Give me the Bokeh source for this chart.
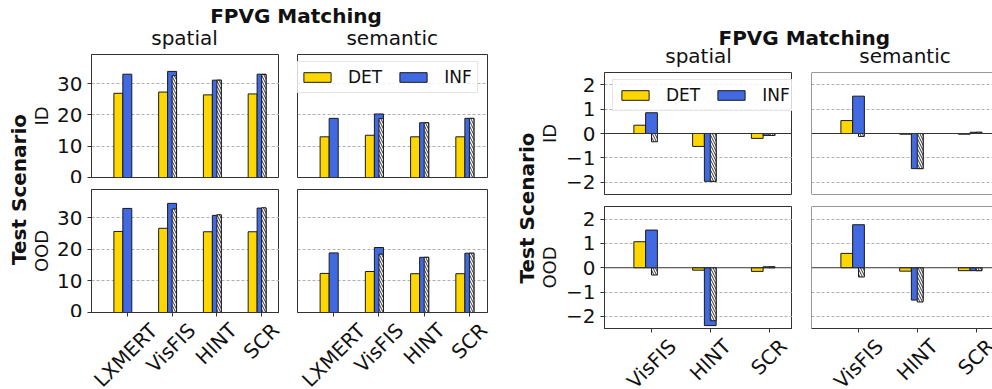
import math
from bokeh.plotting import figure
from bokeh.layouts import row, column
from bokeh.models import (ColumnDataSource, Range1d, FixedTicker, Legend, LegendItem,
                          Span, CustomJSTickFormatter)
from bokeh.transform import dodge
from bokeh.embed import file_html
from bokeh.resources import INLINE
from bokeh.core.properties import value

# ---------------- data ----------------
models = ["LXMERT", "VisFIS", "HINT", "SCR"]
hat_models = ["VisFIS", "HINT", "SCR"]

spatial_id_det = [26.9, 27.3, 26.4, 26.7]
spatial_id_inf = [33.0, 33.9, 31.1, 33.0]
spatial_id_hat = [32.5, 31.1, 32.9]
semantic_id_det = [13.0, 13.5, 13.0, 13.0]
semantic_id_inf = [18.9, 20.3, 17.5, 18.9]
semantic_id_hat = [18.8, 17.5, 18.9]
spatial_ood_det = [25.7, 26.7, 25.6, 25.6]
spatial_ood_inf = [33.0, 34.6, 30.8, 33.1]
spatial_ood_hat = [32.8, 31.0, 33.2]
semantic_ood_det = [12.4, 13.0, 12.3, 12.3]
semantic_ood_inf = [18.9, 20.6, 17.5, 18.8]
semantic_ood_hat = [18.5, 17.5, 18.8]

diff_models = ["VisFIS", "HINT", "SCR"]
d_spatial_id_det = [0.34, -0.53, -0.20]
d_spatial_id_inf = [0.85, -1.96, -0.08]
d_spatial_id_hat = [-0.34, -1.96, -0.08]
d_semantic_id_det = [0.53, -0.03, -0.03]
d_semantic_id_inf = [1.53, -1.44, 0.05]
d_semantic_id_hat = [-0.12, -1.44, 0.05]
d_spatial_ood_det = [1.07, -0.10, -0.15]
d_spatial_ood_inf = [1.55, -2.38, 0.04]
d_spatial_ood_hat = [-0.30, -2.18, 0.04]
d_semantic_ood_det = [0.59, -0.14, -0.12]
d_semantic_ood_inf = [1.77, -1.33, -0.12]
d_semantic_ood_hat = [-0.38, -1.41, -0.12]

left_yticks = [0, 10, 20, 30]
right_yticks = [-2, -1, 0, 1, 2]

# ---------------- style ----------------
FONT = "DejaVu Sans"
YEL = "#FFD700"
BLUE = "#4169E1"
EDGE = "#1a1a1a"
FRAME = "#333333"
GRID = "#b0b0b0"
TXT = "#111111"
TICK_FS = 20
TITLE_FS = "20px"

EM = {"L": 0.557, "X": 0.685, "M": 0.863, "E": 0.632, "R": 0.695, "T": 0.611,
      "V": 0.685, "i": 0.278, "s": 0.521, "F": 0.575, "I": 0.295, "S": 0.635,
      "H": 0.752, "N": 0.748, "C": 0.698}


def text_em(t):
    return sum(EM.get(c, 0.6) for c in t)


def label_drop(t):
    # distance from frame bottom to the centre of a 45-degree rotated tick label
    L = text_em(t) * TICK_FS
    return 6 + 0.354 * (L + 1.16 * TICK_FS)


def panel(cats, det, inf, hat, width, height, bl, br, bt, bb, y0, y1, yticks,
          x_end=None, yaxis=False, xaxis=False, legend_loc=None,
          zero_line=False, open_right=False):
    n = len(cats)
    if x_end is None:
        x_end = n - 1 + 0.4
    p = figure(width=width, height=height, x_range=Range1d(-0.8, x_end),
               y_range=Range1d(y0, y1), toolbar_location=None, output_backend="svg",
               title=None, x_axis_location="below" if xaxis else None,
               y_axis_location="left" if yaxis else None,
               min_border_left=bl, min_border_right=br, min_border_top=bt,
               min_border_bottom=bb, background_fill_color="white",
               border_fill_color="white")
    if open_right:
        p.outline_line_color = None
    else:
        p.outline_line_color = FRAME
        p.outline_line_width = 1
    p.xgrid.grid_line_color = None
    p.ygrid.ticker = FixedTicker(ticks=[t for t in yticks if not (zero_line and t == 0)])
    p.ygrid.grid_line_color = GRID
    p.ygrid.grid_line_dash = "3 2"
    p.ygrid.grid_line_width = 1

    if zero_line:
        p.add_layout(Span(location=0, dimension="width", line_color=FRAME, line_width=1))

    idx = list(range(n))
    src = ColumnDataSource(dict(idx=idx, det=det, inf=inf))
    hidx = [cats.index(m) for m in hat_models if m in cats]
    hsrc = ColumnDataSource(dict(idx=hidx, hat=hat))
    r_det = p.vbar(x=dodge("idx", -0.2), top="det", width=0.2, source=src,
                   fill_color=YEL, line_color=EDGE, line_width=1)
    r_inf = p.vbar(x="idx", top="inf", width=0.2, source=src,
                   fill_color=BLUE, line_color=EDGE, line_width=1)
    p.vbar(x=dodge("idx", 0.05), top="hat", width=0.1, source=hsrc,
           fill_color="white", line_color=EDGE, line_width=1,
           hatch_pattern="left_diagonal_line", hatch_color="#333333",
           hatch_scale=5, hatch_weight=1)

    if open_right:
        p.add_layout(Span(location=y1, dimension="width", line_color=FRAME, line_width=1))
        p.add_layout(Span(location=y0, dimension="width", line_color=FRAME, line_width=1))
        p.add_layout(Span(location=-0.8, dimension="height", line_color=FRAME, line_width=1))

    if yaxis:
        ax = p.yaxis[0]
        ax.ticker = FixedTicker(ticks=yticks)
        ax.formatter = CustomJSTickFormatter(
            code='return tick < 0 ? "\\u2212" + Math.abs(tick) : tick.toString()')
        ax.major_tick_in = 0
        ax.major_tick_out = 4
        ax.minor_tick_line_color = None
        ax.axis_line_color = FRAME
        ax.major_tick_line_color = FRAME
        ax.major_label_text_font = FONT
        ax.major_label_text_font_size = f"{TICK_FS}px"
        ax.major_label_text_color = TXT
        ax.major_label_standoff = 5

    if xaxis:
        ax = p.xaxis[0]
        ax.ticker = FixedTicker(ticks=idx)
        ax.formatter = CustomJSTickFormatter(code='return ""')
        ax.major_label_text_font_size = "1px"
        ax.major_label_standoff = 0
        ax.major_tick_in = 0
        ax.major_tick_out = 4
        ax.minor_tick_line_color = None
        ax.axis_line_color = FRAME
        ax.major_tick_line_color = FRAME

    if legend_loc is not None:
        leg = Legend(items=[LegendItem(label="DET", renderers=[r_det]),
                            LegendItem(label="INF", renderers=[r_inf])],
                     orientation="horizontal", location=legend_loc,
                     glyph_width=34, glyph_height=12, label_standoff=14, spacing=14,
                     padding=5, margin=0, label_text_font=FONT,
                     label_text_font_size="17px", label_text_color=TXT,
                     border_line_color="#cccccc", border_line_width=1,
                     background_fill_color="white", background_fill_alpha=0.8)
        p.add_layout(leg)
    return p


def text_fig(width, height, items):
    p = figure(width=width, height=height, x_range=Range1d(0, width),
               y_range=Range1d(0, height), toolbar_location=None, output_backend="svg",
               title=None, x_axis_location=None, y_axis_location=None,
               min_border_left=0, min_border_right=0, min_border_top=0,
               min_border_bottom=0, outline_line_color=None)
    p.grid.grid_line_color = None
    for (x, y, t, size, style, angle) in items:
        p.text(x=[x], y=[y], text=[t], angle=angle, text_align="center",
               text_baseline="middle", text_font=value(FONT),
               text_font_size=value(size), text_font_style=style, text_color=TXT)
    return p


def label_strip(width, height, top_gap, panels):
    """Rotated category labels under a row of panels.
    panels: list of (cats, frame_left, frame_right, x_start, x_end) in strip pixels."""
    p = figure(width=width, height=height, x_range=Range1d(0, width),
               y_range=Range1d(0, height), toolbar_location=None, output_backend="svg",
               title=None, x_axis_location=None, y_axis_location=None,
               min_border_left=0, min_border_right=0, min_border_top=0,
               min_border_bottom=0, outline_line_color=None)
    p.grid.grid_line_color = None
    for k, (cats, a, b, x0, x1) in enumerate(panels):
        u = (x1 - x0) / (b - a)
        name = f"panel{k}"
        p.extra_x_ranges[name] = Range1d(x0 - a * u, x1 + (width - b) * u)
        ys = [height + top_gap - label_drop(c) for c in cats]
        p.text(x=list(range(len(cats))), y=ys, text=cats, angle=math.pi / 4,
               text_align="center", text_baseline="middle", text_font=value(FONT),
               text_font_size=value(f"{TICK_FS}px"), text_color=TXT, x_range_name=name)
    return p


# ---------------- left group (508 px wide) ----------------
TS_L = 54
BL_L = 89 - TS_L
A = panel(models, spatial_id_det, spatial_id_inf, spatial_id_hat,
          width=BL_L + 190, height=129, bl=BL_L, br=0, bt=0, bb=6,
          y0=0, y1=39.3, yticks=left_yticks, yaxis=True)
B = panel(models, semantic_id_det, semantic_id_inf, semantic_id_hat,
          width=18 + 190 + 21, height=129, bl=18, br=21, bt=0, bb=6,
          y0=0, y1=39.3, yticks=left_yticks, legend_loc=(-3, 84))
C = panel(models, spatial_ood_det, spatial_ood_inf, spatial_ood_hat,
          width=BL_L + 190, height=134, bl=BL_L, br=0, bt=6, bb=5,
          y0=0, y1=39.0, yticks=left_yticks, yaxis=True, xaxis=True)
D = panel(models, semantic_ood_det, semantic_ood_inf, semantic_ood_hat,
          width=18 + 190 + 21, height=134, bl=18, br=21, bt=6, bb=5,
          y0=0, y1=39.0, yticks=left_yticks, xaxis=True)

head_l = text_fig(508, 54, [
    (295.5, 38.4, "FPVG Matching", TITLE_FS, "bold", 0),
    (184, 16.9, "spatial", TITLE_FS, "normal", 0),
    (391.7, 16.9, "semantic", TITLE_FS, "normal", 0),
])
ts_l = text_fig(TS_L, 263, [
    (18, 128, "Test Scenario", TITLE_FS, "bold", math.pi / 2),
    (40.5, 201.5, "ID", "18px", "normal", math.pi / 2),
    (40.5, 66.5, "OOD", "18px", "normal", math.pi / 2),
])
strip_l = label_strip(508, 72, 5, [(models, 89, 279, -0.8, 3.4),
                                   (models, 297, 487, -0.8, 3.4)])

left = column(head_l, row(ts_l, column(row(A, B), row(C, D))), strip_l)

# ---------------- right group (484 px wide) ----------------
TS_R = 54
BL_R = 96 - TS_R
XR_END = -0.8 + 181 * 3.2 / 188
E = panel(diff_models, d_spatial_id_det, d_spatial_id_inf, d_spatial_id_hat,
          width=BL_R + 188, height=128, bl=BL_R, br=0, bt=0, bb=6,
          y0=-2.5, y1=2.5, yticks=right_yticks, yaxis=True,
          legend_loc=(8, 83), zero_line=True)
F = panel(diff_models, d_semantic_id_det, d_semantic_id_inf, d_semantic_id_hat,
          width=19 + 181, height=128, bl=19, br=0, bt=0, bb=6,
          y0=-2.5, y1=2.5, yticks=right_yticks, x_end=XR_END,
          zero_line=True, open_right=True)
G = panel(diff_models, d_spatial_ood_det, d_spatial_ood_inf, d_spatial_ood_hat,
          width=BL_R + 188, height=133, bl=BL_R, br=0, bt=6, bb=5,
          y0=-2.5, y1=2.52, yticks=right_yticks, yaxis=True,
          xaxis=True, zero_line=True)
H = panel(diff_models, d_semantic_ood_det, d_semantic_ood_inf, d_semantic_ood_hat,
          width=19 + 181, height=133, bl=19, br=0, bt=6, bb=5,
          y0=-2.5, y1=2.52, yticks=right_yticks, x_end=XR_END,
          xaxis=True, zero_line=True, open_right=True)

head_r = text_fig(484, 72, [
    (295.8, 34.7, "FPVG Matching", TITLE_FS, "bold", 0),
    (190, 16.4, "spatial", TITLE_FS, "normal", 0),
    (396.5, 16.4, "semantic", TITLE_FS, "normal", 0),
])
ts_r = text_fig(TS_R, 261, [
    (18.1, 125.5, "Test Scenario", TITLE_FS, "bold", math.pi / 2),
    (41, 200, "ID", "18px", "normal", math.pi / 2),
    (41, 66, "OOD", "18px", "normal", math.pi / 2),
])
strip_r = label_strip(484, 56, 5, [(diff_models, 96, 284, -0.8, 2.4),
                                   (diff_models, 303, 484, -0.8, XR_END)])

right = column(head_r, row(ts_r, column(row(E, F), row(G, H))), strip_r)

page = row(left, right)
open("out.html", "w").write(file_html(page, INLINE))
